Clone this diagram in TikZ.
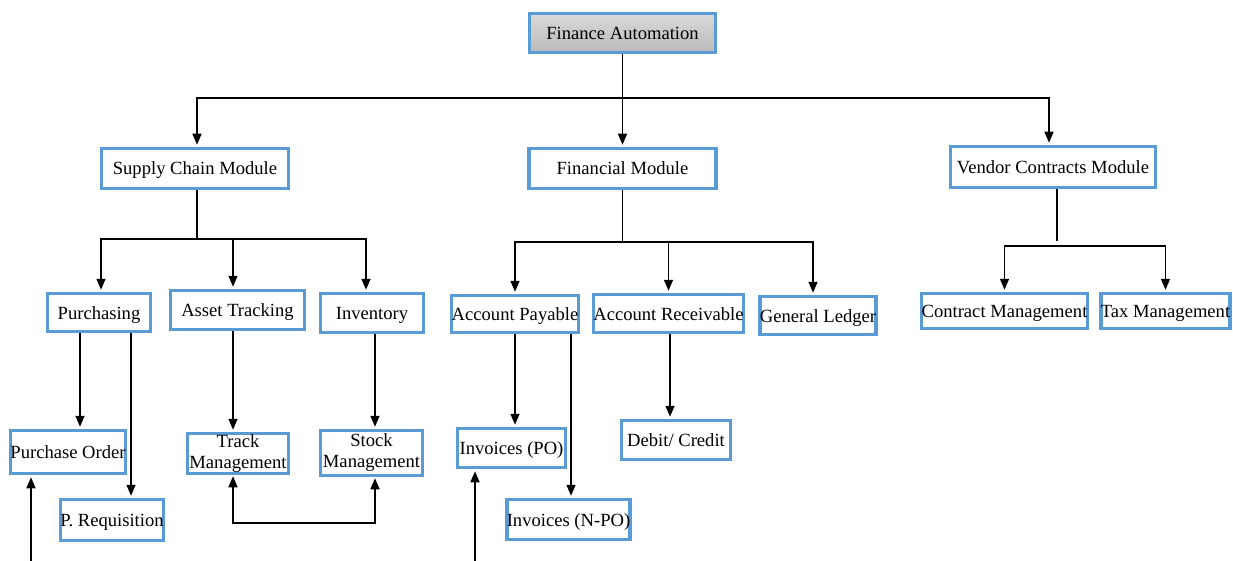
\documentclass[tikz,border=0pt]{standalone}
\usepackage{fontspec}
\setmainfont{Liberation Serif}
\usetikzlibrary{arrows.meta}
\definecolor{boxblue}{RGB}{91,155,213}

\begin{document}
\begin{tikzpicture}[
        x=1pt,
        y=-1pt,
        every node/.style={font=\fontsize{18.6}{21}\selectfont},
        modbox/.style={
            draw=boxblue,
            line width=3.5pt,
            fill=white,
            inner sep=0pt,
            text height=15pt,
            text depth=2pt,
            align=center
        },
        twoline/.style={
            modbox,
            text height=,
            text depth=
        },
        rootbox/.style={
            modbox,
            top color=black!15,
            bottom color=black!27
        },
        link/.style={line width=1.5pt},
        arr/.style={
            link,
            -{Triangle[length=11pt,width=9pt]},
            shorten >=2pt
        },
        twoarr/.style={
            link,
            {Triangle[length=11pt,width=9pt]}-{Triangle[length=11pt,width=9pt]},
            shorten >=1pt,
            shorten <=1pt
        }
    ]
        \useasboundingbox (0,0) rectangle (1233,561);

        % Root
        \node[rootbox, minimum width=186pt, minimum height=39pt]
            (fa) at (622.5,33) {Finance Automation};

        % Row 1: modules
        \node[modbox, minimum width=187pt, minimum height=40pt]
            (sc) at (195,168.5) {Supply Chain Module};
        \node[modbox, minimum width=187pt, minimum height=40pt]
            (fm) at (622.5,168.5) {Financial Module};
        \node[modbox, minimum width=205pt, minimum height=41pt]
            (vc) at (1053,167) {Vendor Contracts Module};

        % Row 2: sub-modules
        \node[modbox, minimum width=103pt, minimum height=38pt]
            (pu) at (99,312.5) {Purchasing};
        \node[modbox, minimum width=134pt, minimum height=39pt]
            (at) at (237.5,310) {Asset Tracking};
        \node[modbox, minimum width=103pt, minimum height=39pt]
            (inv) at (372,313) {Inventory};
        \node[modbox, minimum width=127pt, minimum height=37pt]
            (ap) at (515,314) {Account Payable};
        \node[modbox, minimum width=150pt, minimum height=38pt]
            (ar) at (668.5,313.5) {Account Receivable};
        \node[modbox, minimum width=115pt, minimum height=38pt]
            (gl) at (818,315.5) {General Ledger};
        \node[modbox, minimum width=162pt, minimum height=35pt]
            (cm) at (1004.5,311) {Contract Management};
        \node[modbox, minimum width=124pt, minimum height=35pt]
            (tx) at (1165.5,311) {Tax Management};

        % Row 3: leaves
        \node[modbox, minimum width=109pt, minimum height=43pt]
            (po) at (68,452) {Purchase Order};
        \node[modbox, minimum width=101pt, minimum height=41pt]
            (pr) at (112,520) {P. Requisition};
        \node[twoline, minimum width=101pt, minimum height=40pt]
            (tm) at (238,453.5) {Track\\Management};
        \node[twoline, minimum width=102pt, minimum height=45pt]
            (sm) at (371.5,453) {Stock\\Management};
        \node[modbox, minimum width=108pt, minimum height=39pt]
            (ipo) at (511.5,448) {Invoices (PO)};
        \node[modbox, minimum width=116pt, minimum height=40pt]
            (inpo) at (568.5,519.5) {Invoices (N-PO)};
        \node[modbox, minimum width=109pt, minimum height=39pt]
            (dc) at (676,440) {Debit/ Credit};

        % Root to modules
        \coordinate (b1) at (622.5,98);
        \draw[link] (fa.south) -- (b1);
        \draw[arr] (b1) -| ([xshift=2pt]sc.north);
        \draw[arr] (b1) -- (fm.north);
        \draw[arr] (b1) -| ([xshift=-4pt]vc.north);

        % Supply chain branch
        \coordinate (b2) at (197,239);
        \draw[link] ([xshift=2pt]sc.south) -- (b2);
        \draw[arr] (b2) -| ([xshift=2pt]pu.north);
        \draw[arr] (b2) -| ([xshift=-4.5pt]at.north);
        \draw[arr] (b2) -| ([xshift=-6pt]inv.north);
        \draw[arr] (pu.south -| 80,0) -- (po.north -| 80,0);
        \draw[arr] (pu.south -| 131,0) -- (pr.north -| 131,0);
        \draw[arr] (at.south -| 233,0) -- (tm.north -| 233,0);
        \draw[arr] (inv.south -| 375,0) -- (sm.north -| 375,0);
        \draw[twoarr] (tm.south -| 233,0) -- (233,523) -- (375,523)
            -- (sm.south -| 375,0);

        % Financial branch
        \coordinate (b3) at (622.5,242);
        \draw[link] (fm.south) -- (b3);
        \draw[arr] (b3) -| (ap.north);
        \draw[arr] (b3) -| (ar.north);
        \draw[arr] (b3) -| ([xshift=-5pt]gl.north);
        \draw[arr] (ap.south) -- (ipo.north -| ap.south);
        \draw[arr] (ap.south -| 571,0) -- (inpo.north -| 571,0);
        \draw[arr] (ar.south -| 670,0) -- (dc.north -| 670,0);

        % Vendor branch
        \coordinate (b4) at (1057,241);
        \coordinate (b5) at (1057,246);
        \draw[link] (vc.south -| b4) -- (b4);
        \draw[arr] (b5) -| (cm.north);
        \draw[arr] (b5) -| (tx.north);

        % Inputs from below
        \coordinate (in1) at (31,561);
        \coordinate (in2) at (475,561);
        \draw[arr] (in1) -- (po.south -| in1);
        \draw[arr] (in2) -- (ipo.south -| in2);
    \end{tikzpicture}
\end{document}
